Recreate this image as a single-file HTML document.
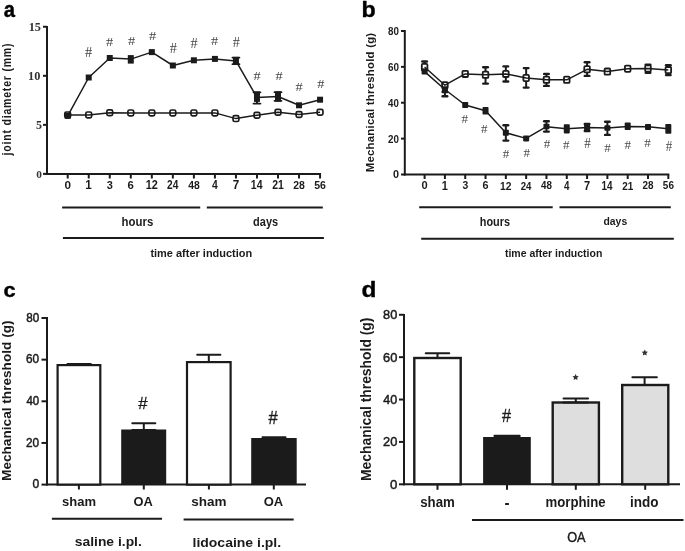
<!DOCTYPE html>
<html><head><meta charset="utf-8"><style>
html,body{margin:0;padding:0;background:#fff;}
svg{display:block;will-change:transform;}
</style></head><body>
<svg width="685" height="551" viewBox="0 0 685 551">
<rect width="685" height="551" fill="#fff"/>
<text transform="translate(3.69,16.88) scale(0.9101,1)" font-size="22.18" font-family='"Liberation Sans", sans-serif' font-weight="bold" fill="#000" stroke="#000" stroke-width="0.44" stroke-linejoin="round">a</text>
<line x1="47.00" y1="26.00" x2="47.00" y2="174.90" stroke="#1b1b1b" stroke-width="2" stroke-linecap="butt"/>
<line x1="46.00" y1="173.90" x2="321.00" y2="173.90" stroke="#1b1b1b" stroke-width="2" stroke-linecap="butt"/>
<line x1="43.00" y1="26.75" x2="47.00" y2="26.75" stroke="#1b1b1b" stroke-width="2" stroke-linecap="butt"/>
<text transform="translate(28.75,30.98) scale(1.0000,1)" font-size="12.24" font-family='"Liberation Serif", serif' font-weight="bold" fill="#333">15</text>
<line x1="43.00" y1="75.80" x2="47.00" y2="75.80" stroke="#1b1b1b" stroke-width="2" stroke-linecap="butt"/>
<text transform="translate(28.04,79.85) scale(1.0000,1)" font-size="12.35" font-family='"Liberation Serif", serif' font-weight="bold" fill="#333">10</text>
<line x1="43.00" y1="124.85" x2="47.00" y2="124.85" stroke="#1b1b1b" stroke-width="2" stroke-linecap="butt"/>
<text transform="translate(35.99,128.98) scale(1.0000,1)" font-size="11.97" font-family='"Liberation Serif", serif' font-weight="bold" fill="#333">5</text>
<line x1="43.00" y1="173.90" x2="47.00" y2="173.90" stroke="#1b1b1b" stroke-width="2" stroke-linecap="butt"/>
<text transform="translate(36.28,177.77) scale(1.0000,1)" font-size="11.34" font-family='"Liberation Serif", serif' font-weight="bold" fill="#333">0</text>
<line x1="67.70" y1="173.90" x2="67.70" y2="178.50" stroke="#1b1b1b" stroke-width="2" stroke-linecap="butt"/>
<text transform="translate(64.48,188.78) scale(1.0010,1)" font-size="11.69" font-family='"Liberation Sans", sans-serif' font-weight="bold" fill="#1b1b1b">0</text>
<line x1="88.73" y1="173.90" x2="88.73" y2="178.50" stroke="#1b1b1b" stroke-width="2" stroke-linecap="butt"/>
<text transform="translate(85.28,188.90) scale(0.9728,1)" font-size="12.03" font-family='"Liberation Sans", sans-serif' font-weight="bold" fill="#1b1b1b">1</text>
<line x1="109.76" y1="173.90" x2="109.76" y2="178.50" stroke="#1b1b1b" stroke-width="2" stroke-linecap="butt"/>
<text transform="translate(106.79,188.78) scale(0.9410,1)" font-size="11.69" font-family='"Liberation Sans", sans-serif' font-weight="bold" fill="#1b1b1b">3</text>
<line x1="130.79" y1="173.90" x2="130.79" y2="178.50" stroke="#1b1b1b" stroke-width="2" stroke-linecap="butt"/>
<text transform="translate(127.58,188.78) scale(0.9802,1)" font-size="11.69" font-family='"Liberation Sans", sans-serif' font-weight="bold" fill="#1b1b1b">6</text>
<line x1="151.82" y1="173.90" x2="151.82" y2="178.50" stroke="#1b1b1b" stroke-width="2" stroke-linecap="butt"/>
<text transform="translate(145.67,188.90) scale(0.9185,1)" font-size="11.86" font-family='"Liberation Sans", sans-serif' font-weight="bold" fill="#1b1b1b">12</text>
<line x1="172.85" y1="173.90" x2="172.85" y2="178.50" stroke="#1b1b1b" stroke-width="2" stroke-linecap="butt"/>
<text transform="translate(167.04,188.90) scale(0.8590,1)" font-size="11.86" font-family='"Liberation Sans", sans-serif' font-weight="bold" fill="#1b1b1b">24</text>
<line x1="193.88" y1="173.90" x2="193.88" y2="178.50" stroke="#1b1b1b" stroke-width="2" stroke-linecap="butt"/>
<text transform="translate(188.17,188.78) scale(0.8877,1)" font-size="11.69" font-family='"Liberation Sans", sans-serif' font-weight="bold" fill="#1b1b1b">48</text>
<line x1="214.91" y1="173.90" x2="214.91" y2="178.50" stroke="#1b1b1b" stroke-width="2" stroke-linecap="butt"/>
<text transform="translate(211.95,188.90) scale(0.8627,1)" font-size="12.03" font-family='"Liberation Sans", sans-serif' font-weight="bold" fill="#1b1b1b">4</text>
<line x1="235.94" y1="173.90" x2="235.94" y2="178.50" stroke="#1b1b1b" stroke-width="2" stroke-linecap="butt"/>
<text transform="translate(232.72,189.02) scale(0.9587,1)" font-size="12.21" font-family='"Liberation Sans", sans-serif' font-weight="bold" fill="#1b1b1b">7</text>
<line x1="256.97" y1="173.90" x2="256.97" y2="178.50" stroke="#1b1b1b" stroke-width="2" stroke-linecap="butt"/>
<text transform="translate(250.84,188.90) scale(0.8709,1)" font-size="12.03" font-family='"Liberation Sans", sans-serif' font-weight="bold" fill="#1b1b1b">14</text>
<line x1="278.00" y1="173.90" x2="278.00" y2="178.50" stroke="#1b1b1b" stroke-width="2" stroke-linecap="butt"/>
<text transform="translate(272.19,188.90) scale(0.8835,1)" font-size="11.86" font-family='"Liberation Sans", sans-serif' font-weight="bold" fill="#1b1b1b">21</text>
<line x1="299.03" y1="173.90" x2="299.03" y2="178.50" stroke="#1b1b1b" stroke-width="2" stroke-linecap="butt"/>
<text transform="translate(293.22,188.78) scale(0.8962,1)" font-size="11.69" font-family='"Liberation Sans", sans-serif' font-weight="bold" fill="#1b1b1b">28</text>
<line x1="320.06" y1="173.90" x2="320.06" y2="178.50" stroke="#1b1b1b" stroke-width="2" stroke-linecap="butt"/>
<text transform="translate(314.24,188.78) scale(0.9048,1)" font-size="11.69" font-family='"Liberation Sans", sans-serif' font-weight="bold" fill="#1b1b1b">56</text>
<polyline points="67.70,114.90 88.73,114.90 109.76,112.70 130.79,112.90 151.82,112.90 172.85,112.90 193.88,112.90 214.91,112.90 235.94,118.60 256.97,115.20 278.00,112.30 299.03,114.50 320.06,112.30" fill="none" stroke="#1b1b1b" stroke-width="1.5" stroke-linejoin="round"/>
<rect x="64.80" y="112.00" width="5.80" height="5.80" fill="none" stroke="#1b1b1b" stroke-width="1.7" rx="1.6"/>
<rect x="85.83" y="112.00" width="5.80" height="5.80" fill="none" stroke="#1b1b1b" stroke-width="1.7" rx="1.6"/>
<rect x="106.86" y="109.80" width="5.80" height="5.80" fill="none" stroke="#1b1b1b" stroke-width="1.7" rx="1.6"/>
<rect x="127.89" y="110.00" width="5.80" height="5.80" fill="none" stroke="#1b1b1b" stroke-width="1.7" rx="1.6"/>
<rect x="148.92" y="110.00" width="5.80" height="5.80" fill="none" stroke="#1b1b1b" stroke-width="1.7" rx="1.6"/>
<rect x="169.95" y="110.00" width="5.80" height="5.80" fill="none" stroke="#1b1b1b" stroke-width="1.7" rx="1.6"/>
<rect x="190.98" y="110.00" width="5.80" height="5.80" fill="none" stroke="#1b1b1b" stroke-width="1.7" rx="1.6"/>
<rect x="212.01" y="110.00" width="5.80" height="5.80" fill="none" stroke="#1b1b1b" stroke-width="1.7" rx="1.6"/>
<rect x="233.04" y="115.70" width="5.80" height="5.80" fill="none" stroke="#1b1b1b" stroke-width="1.7" rx="1.6"/>
<rect x="254.07" y="112.30" width="5.80" height="5.80" fill="none" stroke="#1b1b1b" stroke-width="1.7" rx="1.6"/>
<rect x="275.10" y="109.40" width="5.80" height="5.80" fill="none" stroke="#1b1b1b" stroke-width="1.7" rx="1.6"/>
<rect x="296.13" y="111.60" width="5.80" height="5.80" fill="none" stroke="#1b1b1b" stroke-width="1.7" rx="1.6"/>
<rect x="317.16" y="109.40" width="5.80" height="5.80" fill="none" stroke="#1b1b1b" stroke-width="1.7" rx="1.6"/>
<polyline points="67.70,115.80 88.73,77.50 109.76,58.00 130.79,59.10 151.82,52.10 172.85,65.50 193.88,60.30 214.91,58.90 235.94,60.90 256.97,97.40 278.00,96.50 299.03,105.30 320.06,99.70" fill="none" stroke="#1b1b1b" stroke-width="1.5" stroke-linejoin="round"/>
<line x1="256.97" y1="101.00" x2="256.97" y2="103.60" stroke="#1b1b1b" stroke-width="2" stroke-linecap="butt"/>
<rect x="64.70" y="112.80" width="6.00" height="6.00" fill="#1b1b1b" stroke="none" stroke-width="0" rx="0"/>
<rect x="85.73" y="74.50" width="6.00" height="6.00" fill="#1b1b1b" stroke="none" stroke-width="0" rx="0"/>
<rect x="106.76" y="55.00" width="6.00" height="6.00" fill="#1b1b1b" stroke="none" stroke-width="0" rx="0"/>
<rect x="127.79" y="55.10" width="6.00" height="8.50" fill="#1b1b1b" stroke="none" stroke-width="0" rx="0"/>
<rect x="148.82" y="49.10" width="6.00" height="6.00" fill="#1b1b1b" stroke="none" stroke-width="0" rx="0"/>
<rect x="169.85" y="62.50" width="6.00" height="6.00" fill="#1b1b1b" stroke="none" stroke-width="0" rx="0"/>
<rect x="190.88" y="57.30" width="6.00" height="6.00" fill="#1b1b1b" stroke="none" stroke-width="0" rx="0"/>
<rect x="211.91" y="55.90" width="6.00" height="6.00" fill="#1b1b1b" stroke="none" stroke-width="0" rx="0"/>
<rect x="232.94" y="56.90" width="6.00" height="8.00" fill="#1b1b1b" stroke="none" stroke-width="0" rx="0"/>
<line x1="232.44" y1="57.60" x2="239.44" y2="57.60" stroke="#1b1b1b" stroke-width="1.8" stroke-linecap="round"/>
<line x1="232.44" y1="64.20" x2="239.44" y2="64.20" stroke="#1b1b1b" stroke-width="1.8" stroke-linecap="round"/>
<rect x="253.97" y="91.40" width="6.00" height="10.50" fill="#1b1b1b" stroke="none" stroke-width="0" rx="0"/>
<line x1="253.47" y1="92.30" x2="260.47" y2="92.30" stroke="#1b1b1b" stroke-width="1.8" stroke-linecap="round"/>
<line x1="253.47" y1="103.60" x2="260.47" y2="103.60" stroke="#1b1b1b" stroke-width="1.8" stroke-linecap="round"/>
<rect x="275.00" y="91.40" width="6.00" height="10.20" fill="#1b1b1b" stroke="none" stroke-width="0" rx="0"/>
<line x1="274.50" y1="92.20" x2="281.50" y2="92.20" stroke="#1b1b1b" stroke-width="1.8" stroke-linecap="round"/>
<line x1="274.50" y1="100.80" x2="281.50" y2="100.80" stroke="#1b1b1b" stroke-width="1.8" stroke-linecap="round"/>
<rect x="296.03" y="102.30" width="6.00" height="6.00" fill="#1b1b1b" stroke="none" stroke-width="0" rx="0"/>
<rect x="317.06" y="96.70" width="6.00" height="6.00" fill="#1b1b1b" stroke="none" stroke-width="0" rx="0"/>
<text transform="translate(85.01,57.40) scale(1.0362,1)" font-size="13.85" font-family='"Liberation Serif", serif' font-weight="normal" fill="#444">#</text>
<text transform="translate(106.01,45.90) scale(1.0844,1)" font-size="13.23" font-family='"Liberation Serif", serif' font-weight="normal" fill="#444">#</text>
<text transform="translate(127.91,44.50) scale(1.0720,1)" font-size="13.38" font-family='"Liberation Serif", serif' font-weight="normal" fill="#444">#</text>
<text transform="translate(148.91,40.40) scale(1.0720,1)" font-size="13.38" font-family='"Liberation Serif", serif' font-weight="normal" fill="#444">#</text>
<text transform="translate(169.81,53.30) scale(1.0598,1)" font-size="13.54" font-family='"Liberation Serif", serif' font-weight="normal" fill="#444">#</text>
<text transform="translate(190.61,47.80) scale(1.0598,1)" font-size="13.54" font-family='"Liberation Serif", serif' font-weight="normal" fill="#444">#</text>
<text transform="translate(211.01,44.50) scale(1.0720,1)" font-size="13.38" font-family='"Liberation Serif", serif' font-weight="normal" fill="#444">#</text>
<text transform="translate(232.81,46.90) scale(1.0598,1)" font-size="13.54" font-family='"Liberation Serif", serif' font-weight="normal" fill="#444">#</text>
<text transform="translate(253.51,79.70) scale(1.0972,1)" font-size="13.08" font-family='"Liberation Serif", serif' font-weight="normal" fill="#444">#</text>
<text transform="translate(275.41,79.70) scale(1.0972,1)" font-size="13.08" font-family='"Liberation Serif", serif' font-weight="normal" fill="#444">#</text>
<text transform="translate(295.51,90.90) scale(1.0844,1)" font-size="13.23" font-family='"Liberation Serif", serif' font-weight="normal" fill="#444">#</text>
<text transform="translate(317.21,87.90) scale(1.0972,1)" font-size="13.08" font-family='"Liberation Serif", serif' font-weight="normal" fill="#444">#</text>
<line x1="62.10" y1="207.40" x2="200.20" y2="207.40" stroke="#1b1b1b" stroke-width="2" stroke-linecap="butt"/>
<line x1="206.80" y1="207.40" x2="322.80" y2="207.40" stroke="#1b1b1b" stroke-width="2" stroke-linecap="butt"/>
<line x1="62.90" y1="237.90" x2="323.90" y2="237.90" stroke="#1b1b1b" stroke-width="2" stroke-linecap="butt"/>
<text transform="translate(121.60,225.88) scale(0.9498,1)" font-size="12.03" font-family='"Liberation Sans", sans-serif' font-weight="bold" fill="#1b1b1b">hours</text>
<text transform="translate(253.06,226.15) scale(0.9070,1)" font-size="12.13" font-family='"Liberation Sans", sans-serif' font-weight="bold" fill="#1b1b1b">days</text>
<text transform="translate(150.39,257.48) scale(0.9455,1)" font-size="11.62" font-family='"Liberation Sans", sans-serif' font-weight="bold" fill="#1b1b1b">time after induction</text>
<text transform="translate(10.71,155.39) rotate(-90) scale(0.8600,1)" font-size="12.20" font-family='"Liberation Sans", sans-serif' font-weight="bold" fill="#1b1b1b" letter-spacing="0.946">joint diameter (mm)</text>
<text transform="translate(361.38,17.10) scale(1.0787,1)" font-size="21.51" font-family='"Liberation Sans", sans-serif' font-weight="bold" fill="#000" stroke="#000" stroke-width="0.37" stroke-linejoin="round">b</text>
<line x1="404.80" y1="30.00" x2="404.80" y2="175.50" stroke="#1b1b1b" stroke-width="2" stroke-linecap="butt"/>
<line x1="403.80" y1="174.50" x2="669.30" y2="174.50" stroke="#1b1b1b" stroke-width="2" stroke-linecap="butt"/>
<line x1="401.00" y1="30.98" x2="404.80" y2="30.98" stroke="#1b1b1b" stroke-width="2" stroke-linecap="butt"/>
<text transform="translate(388.01,34.87) scale(0.8704,1)" font-size="11.27" font-family='"Liberation Sans", sans-serif' font-weight="bold" fill="#1b1b1b">80</text>
<line x1="401.00" y1="66.86" x2="404.80" y2="66.86" stroke="#1b1b1b" stroke-width="2" stroke-linecap="butt"/>
<text transform="translate(387.90,70.75) scale(0.8789,1)" font-size="11.27" font-family='"Liberation Sans", sans-serif' font-weight="bold" fill="#1b1b1b">60</text>
<line x1="401.00" y1="102.74" x2="404.80" y2="102.74" stroke="#1b1b1b" stroke-width="2" stroke-linecap="butt"/>
<text transform="translate(388.11,106.63) scale(0.8621,1)" font-size="11.27" font-family='"Liberation Sans", sans-serif' font-weight="bold" fill="#1b1b1b">40</text>
<line x1="401.00" y1="138.62" x2="404.80" y2="138.62" stroke="#1b1b1b" stroke-width="2" stroke-linecap="butt"/>
<text transform="translate(388.01,142.51) scale(0.8704,1)" font-size="11.27" font-family='"Liberation Sans", sans-serif' font-weight="bold" fill="#1b1b1b">20</text>
<line x1="401.00" y1="174.50" x2="404.80" y2="174.50" stroke="#1b1b1b" stroke-width="2" stroke-linecap="butt"/>
<text transform="translate(392.97,178.39) scale(0.9630,1)" font-size="11.27" font-family='"Liberation Sans", sans-serif' font-weight="bold" fill="#1b1b1b">0</text>
<line x1="424.60" y1="174.50" x2="424.60" y2="179.00" stroke="#1b1b1b" stroke-width="2" stroke-linecap="butt"/>
<text transform="translate(421.56,189.48) scale(0.9580,1)" font-size="11.55" font-family='"Liberation Sans", sans-serif' font-weight="bold" fill="#1b1b1b">0</text>
<line x1="444.91" y1="174.50" x2="444.91" y2="179.00" stroke="#1b1b1b" stroke-width="2" stroke-linecap="butt"/>
<text transform="translate(441.65,189.60) scale(0.9310,1)" font-size="11.88" font-family='"Liberation Sans", sans-serif' font-weight="bold" fill="#1b1b1b">1</text>
<line x1="465.22" y1="174.50" x2="465.22" y2="179.00" stroke="#1b1b1b" stroke-width="2" stroke-linecap="butt"/>
<text transform="translate(462.41,189.48) scale(0.9005,1)" font-size="11.55" font-family='"Liberation Sans", sans-serif' font-weight="bold" fill="#1b1b1b">3</text>
<line x1="485.53" y1="174.50" x2="485.53" y2="179.00" stroke="#1b1b1b" stroke-width="2" stroke-linecap="butt"/>
<text transform="translate(482.50,189.48) scale(0.9380,1)" font-size="11.55" font-family='"Liberation Sans", sans-serif' font-weight="bold" fill="#1b1b1b">6</text>
<line x1="505.84" y1="174.50" x2="505.84" y2="179.00" stroke="#1b1b1b" stroke-width="2" stroke-linecap="butt"/>
<text transform="translate(500.02,189.60) scale(0.8790,1)" font-size="11.71" font-family='"Liberation Sans", sans-serif' font-weight="bold" fill="#1b1b1b">12</text>
<line x1="526.15" y1="174.50" x2="526.15" y2="179.00" stroke="#1b1b1b" stroke-width="2" stroke-linecap="butt"/>
<text transform="translate(520.66,189.60) scale(0.8220,1)" font-size="11.71" font-family='"Liberation Sans", sans-serif' font-weight="bold" fill="#1b1b1b">24</text>
<line x1="546.46" y1="174.50" x2="546.46" y2="179.00" stroke="#1b1b1b" stroke-width="2" stroke-linecap="butt"/>
<text transform="translate(541.06,189.48) scale(0.8495,1)" font-size="11.55" font-family='"Liberation Sans", sans-serif' font-weight="bold" fill="#1b1b1b">48</text>
<line x1="566.77" y1="174.50" x2="566.77" y2="179.00" stroke="#1b1b1b" stroke-width="2" stroke-linecap="butt"/>
<text transform="translate(563.97,189.60) scale(0.8256,1)" font-size="11.88" font-family='"Liberation Sans", sans-serif' font-weight="bold" fill="#1b1b1b">4</text>
<line x1="587.08" y1="174.50" x2="587.08" y2="179.00" stroke="#1b1b1b" stroke-width="2" stroke-linecap="butt"/>
<text transform="translate(584.04,189.72) scale(0.9175,1)" font-size="12.06" font-family='"Liberation Sans", sans-serif' font-weight="bold" fill="#1b1b1b">7</text>
<line x1="607.39" y1="174.50" x2="607.39" y2="179.00" stroke="#1b1b1b" stroke-width="2" stroke-linecap="butt"/>
<text transform="translate(601.60,189.60) scale(0.8334,1)" font-size="11.88" font-family='"Liberation Sans", sans-serif' font-weight="bold" fill="#1b1b1b">14</text>
<line x1="627.70" y1="174.50" x2="627.70" y2="179.00" stroke="#1b1b1b" stroke-width="2" stroke-linecap="butt"/>
<text transform="translate(622.20,189.60) scale(0.8455,1)" font-size="11.71" font-family='"Liberation Sans", sans-serif' font-weight="bold" fill="#1b1b1b">21</text>
<line x1="648.01" y1="174.50" x2="648.01" y2="179.00" stroke="#1b1b1b" stroke-width="2" stroke-linecap="butt"/>
<text transform="translate(642.51,189.48) scale(0.8576,1)" font-size="11.55" font-family='"Liberation Sans", sans-serif' font-weight="bold" fill="#1b1b1b">28</text>
<line x1="668.32" y1="174.50" x2="668.32" y2="179.00" stroke="#1b1b1b" stroke-width="2" stroke-linecap="butt"/>
<text transform="translate(662.82,189.48) scale(0.8659,1)" font-size="11.55" font-family='"Liberation Sans", sans-serif' font-weight="bold" fill="#1b1b1b">56</text>
<polyline points="424.60,67.00 444.91,85.20 465.22,73.90 485.53,74.80 505.84,73.90 526.15,78.00 546.46,79.80 566.77,79.80 587.08,69.30 607.39,71.60 627.70,68.70 648.01,68.50 668.32,70.10" fill="none" stroke="#1b1b1b" stroke-width="1.5" stroke-linejoin="round"/>
<polyline points="424.60,71.60 444.91,89.50 465.22,105.00 485.53,110.80 505.84,132.80 526.15,138.40 546.46,126.70 566.77,128.70 587.08,127.50 607.39,128.00 627.70,126.60 648.01,126.80 668.32,128.80" fill="none" stroke="#1b1b1b" stroke-width="1.5" stroke-linejoin="round"/>
<line x1="505.84" y1="125.20" x2="505.84" y2="140.60" stroke="#1b1b1b" stroke-width="2" stroke-linecap="butt"/>
<line x1="503.54" y1="125.20" x2="508.14" y2="125.20" stroke="#1b1b1b" stroke-width="2.4" stroke-linecap="round"/>
<line x1="503.54" y1="140.60" x2="508.14" y2="140.60" stroke="#1b1b1b" stroke-width="2.4" stroke-linecap="round"/>
<line x1="546.46" y1="121.30" x2="546.46" y2="131.60" stroke="#1b1b1b" stroke-width="2" stroke-linecap="butt"/>
<line x1="544.16" y1="121.30" x2="548.76" y2="121.30" stroke="#1b1b1b" stroke-width="2.4" stroke-linecap="round"/>
<line x1="544.16" y1="131.60" x2="548.76" y2="131.60" stroke="#1b1b1b" stroke-width="2.4" stroke-linecap="round"/>
<line x1="587.08" y1="124.00" x2="587.08" y2="131.00" stroke="#1b1b1b" stroke-width="2" stroke-linecap="butt"/>
<line x1="584.78" y1="124.00" x2="589.38" y2="124.00" stroke="#1b1b1b" stroke-width="2.4" stroke-linecap="round"/>
<line x1="584.78" y1="131.00" x2="589.38" y2="131.00" stroke="#1b1b1b" stroke-width="2.4" stroke-linecap="round"/>
<line x1="607.39" y1="121.80" x2="607.39" y2="134.90" stroke="#1b1b1b" stroke-width="2" stroke-linecap="butt"/>
<line x1="605.09" y1="121.80" x2="609.69" y2="121.80" stroke="#1b1b1b" stroke-width="2.4" stroke-linecap="round"/>
<line x1="605.09" y1="134.90" x2="609.69" y2="134.90" stroke="#1b1b1b" stroke-width="2.4" stroke-linecap="round"/>
<line x1="444.91" y1="92.00" x2="444.91" y2="96.20" stroke="#1b1b1b" stroke-width="2" stroke-linecap="butt"/>
<line x1="442.61" y1="92.00" x2="447.21" y2="92.00" stroke="#1b1b1b" stroke-width="2.4" stroke-linecap="round"/>
<line x1="442.61" y1="96.20" x2="447.21" y2="96.20" stroke="#1b1b1b" stroke-width="2.4" stroke-linecap="round"/>
<rect x="421.60" y="68.60" width="6.00" height="6.00" fill="#1b1b1b" stroke="none" stroke-width="0" rx="0.8"/>
<rect x="441.91" y="86.30" width="6.00" height="6.30" fill="#1b1b1b" stroke="none" stroke-width="0" rx="0.8"/>
<rect x="462.22" y="102.00" width="6.00" height="6.00" fill="#1b1b1b" stroke="none" stroke-width="0" rx="0.8"/>
<rect x="482.53" y="107.10" width="6.00" height="7.40" fill="#1b1b1b" stroke="none" stroke-width="0" rx="0.8"/>
<rect x="502.84" y="129.80" width="6.00" height="6.00" fill="#1b1b1b" stroke="none" stroke-width="0" rx="0.8"/>
<rect x="523.15" y="135.40" width="6.00" height="6.00" fill="#1b1b1b" stroke="none" stroke-width="0" rx="0.8"/>
<rect x="543.46" y="123.80" width="6.00" height="5.40" fill="#1b1b1b" stroke="none" stroke-width="0" rx="0.8"/>
<rect x="563.77" y="124.20" width="6.00" height="9.20" fill="#1b1b1b" stroke="none" stroke-width="0" rx="0.8"/>
<rect x="584.08" y="123.30" width="6.00" height="8.30" fill="#1b1b1b" stroke="none" stroke-width="0" rx="0.8"/>
<rect x="604.39" y="125.30" width="6.00" height="5.50" fill="#1b1b1b" stroke="none" stroke-width="0" rx="0.8"/>
<rect x="624.70" y="122.60" width="6.00" height="7.40" fill="#1b1b1b" stroke="none" stroke-width="0" rx="0.8"/>
<rect x="645.01" y="124.00" width="6.00" height="6.00" fill="#1b1b1b" stroke="none" stroke-width="0" rx="0.8"/>
<rect x="665.32" y="124.10" width="6.00" height="9.60" fill="#1b1b1b" stroke="none" stroke-width="0" rx="0.8"/>
<line x1="424.60" y1="61.50" x2="424.60" y2="64.00" stroke="#1b1b1b" stroke-width="2" stroke-linecap="butt"/>
<line x1="424.60" y1="70.00" x2="424.60" y2="70.00" stroke="#1b1b1b" stroke-width="2" stroke-linecap="butt"/>
<line x1="422.30" y1="61.50" x2="426.90" y2="61.50" stroke="#1b1b1b" stroke-width="2.4" stroke-linecap="round"/>
<line x1="422.30" y1="70.00" x2="426.90" y2="70.00" stroke="#1b1b1b" stroke-width="2.4" stroke-linecap="round"/>
<line x1="485.53" y1="67.30" x2="485.53" y2="71.80" stroke="#1b1b1b" stroke-width="2" stroke-linecap="butt"/>
<line x1="485.53" y1="77.80" x2="485.53" y2="83.60" stroke="#1b1b1b" stroke-width="2" stroke-linecap="butt"/>
<line x1="483.23" y1="67.30" x2="487.83" y2="67.30" stroke="#1b1b1b" stroke-width="2.4" stroke-linecap="round"/>
<line x1="483.23" y1="83.60" x2="487.83" y2="83.60" stroke="#1b1b1b" stroke-width="2.4" stroke-linecap="round"/>
<line x1="505.84" y1="66.40" x2="505.84" y2="70.90" stroke="#1b1b1b" stroke-width="2" stroke-linecap="butt"/>
<line x1="505.84" y1="76.90" x2="505.84" y2="81.50" stroke="#1b1b1b" stroke-width="2" stroke-linecap="butt"/>
<line x1="503.54" y1="66.40" x2="508.14" y2="66.40" stroke="#1b1b1b" stroke-width="2.4" stroke-linecap="round"/>
<line x1="503.54" y1="81.50" x2="508.14" y2="81.50" stroke="#1b1b1b" stroke-width="2.4" stroke-linecap="round"/>
<line x1="526.15" y1="68.10" x2="526.15" y2="75.00" stroke="#1b1b1b" stroke-width="2" stroke-linecap="butt"/>
<line x1="526.15" y1="81.00" x2="526.15" y2="87.60" stroke="#1b1b1b" stroke-width="2" stroke-linecap="butt"/>
<line x1="523.85" y1="68.10" x2="528.45" y2="68.10" stroke="#1b1b1b" stroke-width="2.4" stroke-linecap="round"/>
<line x1="523.85" y1="87.60" x2="528.45" y2="87.60" stroke="#1b1b1b" stroke-width="2.4" stroke-linecap="round"/>
<line x1="546.46" y1="73.90" x2="546.46" y2="76.80" stroke="#1b1b1b" stroke-width="2" stroke-linecap="butt"/>
<line x1="546.46" y1="82.80" x2="546.46" y2="85.90" stroke="#1b1b1b" stroke-width="2" stroke-linecap="butt"/>
<line x1="544.16" y1="73.90" x2="548.76" y2="73.90" stroke="#1b1b1b" stroke-width="2.4" stroke-linecap="round"/>
<line x1="544.16" y1="85.90" x2="548.76" y2="85.90" stroke="#1b1b1b" stroke-width="2.4" stroke-linecap="round"/>
<line x1="587.08" y1="62.30" x2="587.08" y2="66.30" stroke="#1b1b1b" stroke-width="2" stroke-linecap="butt"/>
<line x1="587.08" y1="72.30" x2="587.08" y2="75.90" stroke="#1b1b1b" stroke-width="2" stroke-linecap="butt"/>
<line x1="584.78" y1="62.30" x2="589.38" y2="62.30" stroke="#1b1b1b" stroke-width="2.4" stroke-linecap="round"/>
<line x1="584.78" y1="75.90" x2="589.38" y2="75.90" stroke="#1b1b1b" stroke-width="2.4" stroke-linecap="round"/>
<line x1="648.01" y1="64.60" x2="648.01" y2="65.50" stroke="#1b1b1b" stroke-width="2" stroke-linecap="butt"/>
<line x1="648.01" y1="71.50" x2="648.01" y2="72.80" stroke="#1b1b1b" stroke-width="2" stroke-linecap="butt"/>
<line x1="645.71" y1="64.60" x2="650.31" y2="64.60" stroke="#1b1b1b" stroke-width="2.4" stroke-linecap="round"/>
<line x1="645.71" y1="72.80" x2="650.31" y2="72.80" stroke="#1b1b1b" stroke-width="2.4" stroke-linecap="round"/>
<line x1="668.32" y1="65.20" x2="668.32" y2="67.10" stroke="#1b1b1b" stroke-width="2" stroke-linecap="butt"/>
<line x1="668.32" y1="73.10" x2="668.32" y2="75.10" stroke="#1b1b1b" stroke-width="2" stroke-linecap="butt"/>
<line x1="666.02" y1="65.20" x2="670.62" y2="65.20" stroke="#1b1b1b" stroke-width="2.4" stroke-linecap="round"/>
<line x1="666.02" y1="75.10" x2="670.62" y2="75.10" stroke="#1b1b1b" stroke-width="2.4" stroke-linecap="round"/>
<rect x="421.80" y="63.90" width="5.60" height="6.20" fill="none" stroke="#1b1b1b" stroke-width="1.8" rx="1"/>
<rect x="442.11" y="82.10" width="5.60" height="6.20" fill="none" stroke="#1b1b1b" stroke-width="1.8" rx="1"/>
<rect x="462.42" y="70.80" width="5.60" height="6.20" fill="none" stroke="#1b1b1b" stroke-width="1.8" rx="1"/>
<rect x="482.73" y="71.70" width="5.60" height="6.20" fill="none" stroke="#1b1b1b" stroke-width="1.8" rx="1"/>
<rect x="503.04" y="70.80" width="5.60" height="6.20" fill="none" stroke="#1b1b1b" stroke-width="1.8" rx="1"/>
<rect x="523.35" y="74.90" width="5.60" height="6.20" fill="none" stroke="#1b1b1b" stroke-width="1.8" rx="1"/>
<rect x="543.66" y="76.70" width="5.60" height="6.20" fill="none" stroke="#1b1b1b" stroke-width="1.8" rx="1"/>
<rect x="563.97" y="76.70" width="5.60" height="6.20" fill="none" stroke="#1b1b1b" stroke-width="1.8" rx="1"/>
<rect x="584.28" y="66.20" width="5.60" height="6.20" fill="none" stroke="#1b1b1b" stroke-width="1.8" rx="1"/>
<rect x="604.59" y="68.50" width="5.60" height="6.20" fill="none" stroke="#1b1b1b" stroke-width="1.8" rx="1"/>
<rect x="624.90" y="65.60" width="5.60" height="6.20" fill="none" stroke="#1b1b1b" stroke-width="1.8" rx="1"/>
<rect x="645.21" y="65.40" width="5.60" height="6.20" fill="none" stroke="#1b1b1b" stroke-width="1.8" rx="1"/>
<rect x="665.52" y="67.00" width="5.60" height="6.20" fill="none" stroke="#1b1b1b" stroke-width="1.8" rx="1"/>
<text transform="translate(461.54,122.90) scale(1.0093,1)" font-size="12.92" font-family='"Liberation Serif", serif' font-weight="normal" fill="#4a4a4a">#</text>
<text transform="translate(480.94,132.60) scale(0.9974,1)" font-size="13.08" font-family='"Liberation Serif", serif' font-weight="normal" fill="#4a4a4a">#</text>
<text transform="translate(502.84,158.10) scale(1.0870,1)" font-size="12.00" font-family='"Liberation Serif", serif' font-weight="normal" fill="#4a4a4a">#</text>
<text transform="translate(523.54,157.30) scale(1.0339,1)" font-size="12.62" font-family='"Liberation Serif", serif' font-weight="normal" fill="#4a4a4a">#</text>
<text transform="translate(543.74,147.60) scale(1.0870,1)" font-size="12.00" font-family='"Liberation Serif", serif' font-weight="normal" fill="#4a4a4a">#</text>
<text transform="translate(562.94,149.10) scale(1.0870,1)" font-size="12.00" font-family='"Liberation Serif", serif' font-weight="normal" fill="#4a4a4a">#</text>
<text transform="translate(584.24,148.20) scale(0.9420,1)" font-size="13.85" font-family='"Liberation Serif", serif' font-weight="normal" fill="#4a4a4a">#</text>
<text transform="translate(604.34,152.10) scale(0.9745,1)" font-size="13.38" font-family='"Liberation Serif", serif' font-weight="normal" fill="#4a4a4a">#</text>
<text transform="translate(624.44,148.90) scale(0.9745,1)" font-size="13.38" font-family='"Liberation Serif", serif' font-weight="normal" fill="#4a4a4a">#</text>
<text transform="translate(644.34,146.60) scale(0.9974,1)" font-size="13.08" font-family='"Liberation Serif", serif' font-weight="normal" fill="#4a4a4a">#</text>
<text transform="translate(665.64,151.40) scale(0.9634,1)" font-size="13.54" font-family='"Liberation Serif", serif' font-weight="normal" fill="#4a4a4a">#</text>
<line x1="419.20" y1="207.20" x2="552.70" y2="207.20" stroke="#1b1b1b" stroke-width="2" stroke-linecap="butt"/>
<line x1="559.50" y1="207.20" x2="670.80" y2="207.20" stroke="#1b1b1b" stroke-width="2" stroke-linecap="butt"/>
<line x1="421.20" y1="238.80" x2="673.80" y2="238.80" stroke="#1b1b1b" stroke-width="2" stroke-linecap="butt"/>
<text transform="translate(479.73,226.28) scale(0.9196,1)" font-size="11.89" font-family='"Liberation Sans", sans-serif' font-weight="bold" fill="#1b1b1b">hours</text>
<text transform="translate(603.48,225.33) scale(0.9231,1)" font-size="11.28" font-family='"Liberation Sans", sans-serif' font-weight="bold" fill="#1b1b1b">days</text>
<text transform="translate(504.89,257.29) scale(0.9602,1)" font-size="10.95" font-family='"Liberation Sans", sans-serif' font-weight="bold" fill="#1b1b1b">time after induction</text>
<text transform="translate(373.92,172.30) rotate(-90) scale(1.0000,1)" font-size="11.40" font-family='"Liberation Sans", sans-serif' font-weight="bold" fill="#1b1b1b" letter-spacing="0.229">Mechanical threshold (g)</text>
<text transform="translate(3.43,296.89) scale(1.0354,1)" font-size="21.09" font-family='"Liberation Sans", sans-serif' font-weight="bold" fill="#000" stroke="#000" stroke-width="0.39" stroke-linejoin="round">c</text>
<line x1="47.00" y1="317.00" x2="47.00" y2="485.60" stroke="#1b1b1b" stroke-width="2" stroke-linecap="butt"/>
<line x1="46.00" y1="484.60" x2="306.00" y2="484.60" stroke="#1b1b1b" stroke-width="2" stroke-linecap="butt"/>
<line x1="41.50" y1="318.00" x2="47.00" y2="318.00" stroke="#1b1b1b" stroke-width="2" stroke-linecap="butt"/>
<text transform="translate(26.16,321.56) scale(0.9830,1)" font-size="11.90" font-family='"Liberation Sans", sans-serif' font-weight="normal" fill="#1b1b1b" stroke="#1b1b1b" stroke-width="0.46" stroke-linejoin="round">80</text>
<line x1="41.50" y1="359.65" x2="47.00" y2="359.65" stroke="#1b1b1b" stroke-width="2" stroke-linecap="butt"/>
<text transform="translate(26.03,363.21) scale(0.9926,1)" font-size="11.90" font-family='"Liberation Sans", sans-serif' font-weight="normal" fill="#1b1b1b" stroke="#1b1b1b" stroke-width="0.45" stroke-linejoin="round">60</text>
<line x1="41.50" y1="401.30" x2="47.00" y2="401.30" stroke="#1b1b1b" stroke-width="2" stroke-linecap="butt"/>
<text transform="translate(26.40,404.86) scale(0.9643,1)" font-size="11.90" font-family='"Liberation Sans", sans-serif' font-weight="normal" fill="#1b1b1b" stroke="#1b1b1b" stroke-width="0.47" stroke-linejoin="round">40</text>
<line x1="41.50" y1="442.95" x2="47.00" y2="442.95" stroke="#1b1b1b" stroke-width="2" stroke-linecap="butt"/>
<text transform="translate(26.03,446.51) scale(0.9926,1)" font-size="11.90" font-family='"Liberation Sans", sans-serif' font-weight="normal" fill="#1b1b1b" stroke="#1b1b1b" stroke-width="0.45" stroke-linejoin="round">20</text>
<line x1="41.50" y1="484.60" x2="47.00" y2="484.60" stroke="#1b1b1b" stroke-width="2" stroke-linecap="butt"/>
<text transform="translate(32.39,488.16) scale(1.0153,1)" font-size="11.90" font-family='"Liberation Sans", sans-serif' font-weight="normal" fill="#1b1b1b" stroke="#1b1b1b" stroke-width="0.44" stroke-linejoin="round">0</text>
<rect x="57.60" y="365.10" width="42.70" height="119.50" fill="#fff" stroke="#1b1b1b" stroke-width="2.2" rx="0"/>
<rect x="121.20" y="429.50" width="45.00" height="55.10" fill="#1b1b1b" stroke="none" stroke-width="0" rx="0"/>
<rect x="187.00" y="362.10" width="43.60" height="122.50" fill="#fff" stroke="#1b1b1b" stroke-width="2.2" rx="0"/>
<rect x="251.20" y="438.00" width="45.50" height="46.60" fill="#1b1b1b" stroke="none" stroke-width="0" rx="0"/>
<line x1="67.50" y1="363.90" x2="90.80" y2="363.90" stroke="#1b1b1b" stroke-width="2" stroke-linecap="round"/>
<line x1="143.80" y1="423.30" x2="143.80" y2="430.00" stroke="#1b1b1b" stroke-width="2" stroke-linecap="butt"/>
<line x1="132.30" y1="423.30" x2="155.30" y2="423.30" stroke="#1b1b1b" stroke-width="2" stroke-linecap="round"/>
<line x1="132.30" y1="430.00" x2="155.30" y2="430.00" stroke="#1b1b1b" stroke-width="2" stroke-linecap="round"/>
<line x1="208.80" y1="354.80" x2="208.80" y2="362.00" stroke="#1b1b1b" stroke-width="2" stroke-linecap="butt"/>
<line x1="197.20" y1="354.80" x2="220.40" y2="354.80" stroke="#1b1b1b" stroke-width="2" stroke-linecap="round"/>
<line x1="197.20" y1="362.00" x2="220.40" y2="362.00" stroke="#1b1b1b" stroke-width="2" stroke-linecap="round"/>
<line x1="262.50" y1="437.30" x2="285.50" y2="437.30" stroke="#1b1b1b" stroke-width="2" stroke-linecap="round"/>
<line x1="78.90" y1="484.60" x2="78.90" y2="489.50" stroke="#1b1b1b" stroke-width="2" stroke-linecap="butt"/>
<line x1="143.80" y1="484.60" x2="143.80" y2="489.50" stroke="#1b1b1b" stroke-width="2" stroke-linecap="butt"/>
<line x1="208.90" y1="484.60" x2="208.90" y2="489.50" stroke="#1b1b1b" stroke-width="2" stroke-linecap="butt"/>
<line x1="273.80" y1="484.60" x2="273.80" y2="489.50" stroke="#1b1b1b" stroke-width="2" stroke-linecap="butt"/>
<text transform="translate(138.25,409.05) scale(0.9639,1)" font-size="17.35" font-family='"Liberation Sans", sans-serif' font-weight="normal" fill="#1b1b1b" stroke="#1b1b1b" stroke-width="0.31" stroke-linejoin="round">#</text>
<text transform="translate(268.55,424.35) scale(0.9455,1)" font-size="17.50" font-family='"Liberation Sans", sans-serif' font-weight="normal" fill="#1b1b1b" stroke="#1b1b1b" stroke-width="0.32" stroke-linejoin="round">#</text>
<text transform="translate(61.98,506.48) scale(1.0479,1)" font-size="12.43" font-family='"Liberation Sans", sans-serif' font-weight="bold" fill="#1b1b1b">sham</text>
<text transform="translate(133.49,506.48) scale(1.0623,1)" font-size="12.11" font-family='"Liberation Sans", sans-serif' font-weight="bold" fill="#1b1b1b">OA</text>
<text transform="translate(191.36,506.48) scale(1.0864,1)" font-size="12.43" font-family='"Liberation Sans", sans-serif' font-weight="bold" fill="#1b1b1b">sham</text>
<text transform="translate(263.68,506.48) scale(1.0738,1)" font-size="12.11" font-family='"Liberation Sans", sans-serif' font-weight="bold" fill="#1b1b1b">OA</text>
<line x1="51.90" y1="518.80" x2="162.00" y2="518.80" stroke="#1b1b1b" stroke-width="2" stroke-linecap="butt"/>
<line x1="183.60" y1="519.40" x2="293.70" y2="519.40" stroke="#1b1b1b" stroke-width="2" stroke-linecap="butt"/>
<text transform="translate(74.74,545.60) scale(1.0791,1)" font-size="12.87" font-family='"Liberation Sans", sans-serif' font-weight="bold" fill="#1b1b1b">saline i.pl.</text>
<text transform="translate(192.52,546.68) scale(1.1646,1)" font-size="12.02" font-family='"Liberation Sans", sans-serif' font-weight="bold" fill="#1b1b1b">lidocaine i.pl.</text>
<text transform="translate(10.56,480.95) rotate(-90) scale(1.0863,1)" font-size="12.55" font-family='"Liberation Sans", sans-serif' font-weight="bold" fill="#1b1b1b">Mechanical threshold (g)</text>
<text transform="translate(361.42,297.10) scale(1.0861,1)" font-size="22.47" font-family='"Liberation Sans", sans-serif' font-weight="bold" fill="#000" stroke="#000" stroke-width="0.37" stroke-linejoin="round">d</text>
<line x1="404.00" y1="314.00" x2="404.00" y2="485.30" stroke="#1b1b1b" stroke-width="2" stroke-linecap="butt"/>
<line x1="403.00" y1="484.30" x2="680.00" y2="484.30" stroke="#1b1b1b" stroke-width="2" stroke-linecap="butt"/>
<line x1="399.00" y1="314.78" x2="404.00" y2="314.78" stroke="#1b1b1b" stroke-width="2" stroke-linecap="butt"/>
<text transform="translate(383.11,319.32) scale(0.9800,1)" font-size="13.03" font-family='"Liberation Sans", sans-serif' font-weight="normal" fill="#1b1b1b" stroke="#1b1b1b" stroke-width="0.46" stroke-linejoin="round">80</text>
<line x1="399.00" y1="357.16" x2="404.00" y2="357.16" stroke="#1b1b1b" stroke-width="2" stroke-linecap="butt"/>
<text transform="translate(382.98,361.70) scale(0.9896,1)" font-size="13.03" font-family='"Liberation Sans", sans-serif' font-weight="normal" fill="#1b1b1b" stroke="#1b1b1b" stroke-width="0.45" stroke-linejoin="round">60</text>
<line x1="399.00" y1="399.54" x2="404.00" y2="399.54" stroke="#1b1b1b" stroke-width="2" stroke-linecap="butt"/>
<text transform="translate(383.37,404.08) scale(0.9613,1)" font-size="13.03" font-family='"Liberation Sans", sans-serif' font-weight="normal" fill="#1b1b1b" stroke="#1b1b1b" stroke-width="0.47" stroke-linejoin="round">40</text>
<line x1="399.00" y1="441.92" x2="404.00" y2="441.92" stroke="#1b1b1b" stroke-width="2" stroke-linecap="butt"/>
<text transform="translate(382.98,446.46) scale(0.9896,1)" font-size="13.03" font-family='"Liberation Sans", sans-serif' font-weight="normal" fill="#1b1b1b" stroke="#1b1b1b" stroke-width="0.45" stroke-linejoin="round">20</text>
<line x1="399.00" y1="484.30" x2="404.00" y2="484.30" stroke="#1b1b1b" stroke-width="2" stroke-linecap="butt"/>
<text transform="translate(389.90,488.84) scale(1.0154,1)" font-size="13.03" font-family='"Liberation Sans", sans-serif' font-weight="normal" fill="#1b1b1b" stroke="#1b1b1b" stroke-width="0.44" stroke-linejoin="round">0</text>
<rect x="414.30" y="358.00" width="46.40" height="126.30" fill="#fff" stroke="#1b1b1b" stroke-width="2.4" rx="0"/>
<rect x="483.10" y="437.00" width="47.70" height="47.30" fill="#1b1b1b" stroke="none" stroke-width="0" rx="0"/>
<rect x="552.70" y="402.50" width="46.20" height="81.80" fill="#dedede" stroke="#1b1b1b" stroke-width="2.4" rx="0"/>
<rect x="622.20" y="385.00" width="46.10" height="99.30" fill="#dedede" stroke="#1b1b1b" stroke-width="2.4" rx="0"/>
<line x1="437.50" y1="353.30" x2="437.50" y2="358.00" stroke="#1b1b1b" stroke-width="2" stroke-linecap="butt"/>
<line x1="425.75" y1="353.30" x2="449.25" y2="353.30" stroke="#1b1b1b" stroke-width="2" stroke-linecap="round"/>
<line x1="425.75" y1="358.00" x2="449.25" y2="358.00" stroke="#1b1b1b" stroke-width="2" stroke-linecap="round"/>
<line x1="494.50" y1="435.90" x2="519.60" y2="435.90" stroke="#1b1b1b" stroke-width="2.2" stroke-linecap="round"/>
<line x1="575.80" y1="398.40" x2="575.80" y2="402.50" stroke="#1b1b1b" stroke-width="2" stroke-linecap="butt"/>
<line x1="563.55" y1="398.40" x2="588.05" y2="398.40" stroke="#1b1b1b" stroke-width="2" stroke-linecap="round"/>
<line x1="563.55" y1="402.50" x2="588.05" y2="402.50" stroke="#1b1b1b" stroke-width="2" stroke-linecap="round"/>
<line x1="644.60" y1="377.30" x2="644.60" y2="385.00" stroke="#1b1b1b" stroke-width="2" stroke-linecap="butt"/>
<line x1="632.35" y1="377.30" x2="656.85" y2="377.30" stroke="#1b1b1b" stroke-width="2" stroke-linecap="round"/>
<line x1="632.35" y1="385.00" x2="656.85" y2="385.00" stroke="#1b1b1b" stroke-width="2" stroke-linecap="round"/>
<line x1="437.50" y1="484.30" x2="437.50" y2="489.80" stroke="#1b1b1b" stroke-width="2" stroke-linecap="butt"/>
<line x1="507.00" y1="484.30" x2="507.00" y2="489.80" stroke="#1b1b1b" stroke-width="2" stroke-linecap="butt"/>
<line x1="575.80" y1="484.30" x2="575.80" y2="489.80" stroke="#1b1b1b" stroke-width="2" stroke-linecap="butt"/>
<line x1="645.20" y1="484.30" x2="645.20" y2="489.80" stroke="#1b1b1b" stroke-width="2" stroke-linecap="butt"/>
<text transform="translate(502.05,421.85) scale(0.8946,1)" font-size="18.09" font-family='"Liberation Sans", sans-serif' font-weight="normal" fill="#1b1b1b" stroke="#1b1b1b" stroke-width="0.34" stroke-linejoin="round">#</text>
<polygon points="575.60,374.00 576.57,375.97 578.74,376.28 577.17,377.81 577.54,379.97 575.60,378.95 573.66,379.97 574.03,377.81 572.46,376.28 574.63,375.97" fill="#333"/>
<polygon points="644.80,349.50 645.77,351.47 647.94,351.78 646.37,353.31 646.74,355.47 644.80,354.45 642.86,355.47 643.23,353.31 641.66,351.78 643.83,351.47" fill="#333"/>
<text transform="translate(420.17,506.66) scale(0.9440,1)" font-size="14.05" font-family='"Liberation Sans", sans-serif' font-weight="bold" fill="#1b1b1b">sham</text>
<text transform="translate(504.59,507.53) scale(0.9120,1)" font-size="16.67" font-family='"Liberation Sans", sans-serif' font-weight="bold" fill="#1b1b1b">-</text>
<text transform="translate(545.48,506.68) scale(0.9200,1)" font-size="14.36" font-family='"Liberation Sans", sans-serif' font-weight="bold" fill="#1b1b1b">morphine</text>
<text transform="translate(630.05,506.66) scale(0.9641,1)" font-size="14.05" font-family='"Liberation Sans", sans-serif' font-weight="bold" fill="#1b1b1b">indo</text>
<line x1="472.00" y1="519.90" x2="683.50" y2="519.90" stroke="#1b1b1b" stroke-width="2" stroke-linecap="butt"/>
<text transform="translate(567.14,542.38) scale(0.8627,1)" font-size="14.72" font-family='"Liberation Sans", sans-serif' font-weight="normal" fill="#1b1b1b" stroke="#1b1b1b" stroke-width="0.41" stroke-linejoin="round">OA</text>
<text transform="translate(370.69,480.97) rotate(-90) scale(0.9390,1)" font-size="14.79" font-family='"Liberation Sans", sans-serif' font-weight="bold" fill="#1b1b1b">Mechanical threshold (g)</text>
</svg>
</body></html>
